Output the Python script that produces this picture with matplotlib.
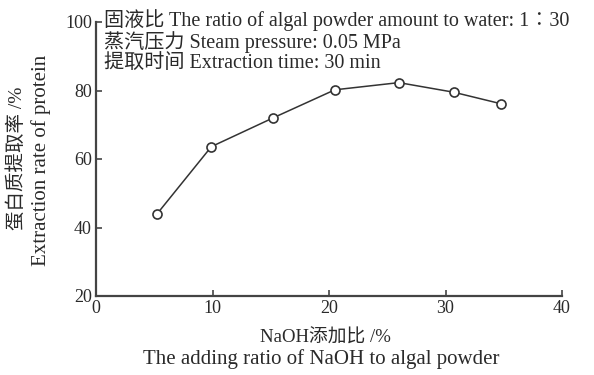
import matplotlib
matplotlib.use("Agg")
import matplotlib.pyplot as plt

plt.rcParams['font.family'] = ['Liberation Serif', 'Noto Sans CJK SC', 'DejaVu Sans']

naoh_ratio = [5.2, 9.9, 15.2, 20.5, 26.0, 30.7, 34.8]
extraction_rate = [43.8, 63.6, 72.0, 80.2, 82.3, 79.5, 76.1]
x_ticks = [0, 10, 20, 30, 40]
y_ticks = [20, 40, 60, 80, 100]
notes = ["固液比 The ratio of algal powder amount to water: 1∶30",
         "蒸汽压力 Steam pressure: 0.05 MPa",
         "提取时间 Extraction time: 30 min"]
xlabel_cn = "NaOH添加比 /%"
xlabel_en = "The adding ratio of NaOH to algal powder"
ylabel_cn = "蛋白质提取率 /%"
ylabel_en = "Extraction rate of protein"

W, H = 594, 375
fig = plt.figure(figsize=(W / 100, H / 100), dpi=100)
ax = fig.add_axes([96 / W, 1 - 296 / H, 466 / W, 274 / H])

col = '#333333'
tc = '#2a2a2a'
ax.plot(naoh_ratio, extraction_rate, color=col, lw=1.1, marker='o', ms=6.5,
        mfc='white', mec=col, mew=1.2)

ax.set_xlim(0, 40)
ax.set_ylim(20, 100)
ax.set_xticks(x_ticks)
ax.set_yticks(y_ticks)
for s in ['top', 'right']:
    ax.spines[s].set_visible(False)
for s in ['left', 'bottom']:
    ax.spines[s].set_linewidth(1.6)
    ax.spines[s].set_color('#444444')
ax.tick_params(direction='in', length=4, width=1.2, color='#444444',
               labelsize=13, labelcolor=tc)
ax.tick_params(axis='x', pad=3)
ax.tick_params(axis='y', pad=3)

fig.text(325 / W, 1 - 338 / H, xlabel_cn, ha='center', va='center',
         fontsize=13.5, color=tc)
fig.text(321 / W, 1 - 359 / H, xlabel_en, ha='center', va='center',
         fontsize=15, color=tc)
fig.text(17 / W, 1 - 158 / H, ylabel_cn, ha='center', va='center',
         rotation=90, fontsize=14, color=tc)
fig.text(41 / W, 1 - 160 / H, ylabel_en, ha='center', va='center',
         rotation=90, fontsize=15, color=tc)

ys = [20, 42, 63]
for t, yy in zip(notes, ys):
    fig.text(104 / W, 1 - yy / H, t, ha='left', va='center',
             fontsize=14.5, color=tc)

fig.savefig('out.png', dpi=100)
